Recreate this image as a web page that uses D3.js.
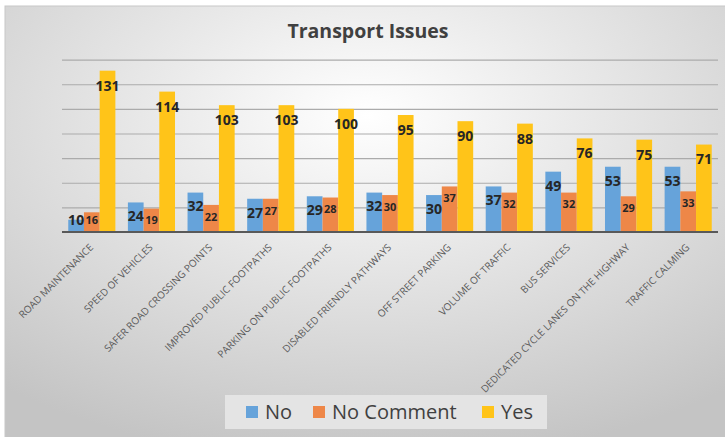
<!DOCTYPE html>
<html>
<head>
<meta charset="utf-8">
<script src="https://cdn.jsdelivr.net/npm/d3@7"></script>
<style>
  body { margin: 0; background: #fff; }
  svg { display: block; font-family: "Open Sans", sans-serif; }
</style>
</head>
<body>
<svg id="chart" width="725" height="437"></svg>
<script>
// ── data ────────────────────────────────────────────────
const categories = [
  'ROAD MAINTENANCE', 'SPEED OF VEHICLES', 'SAFER ROAD CROSSING POINTS',
  'IMPROVED PUBLIC FOOTPATHS', 'PARKING ON PUBLIC FOOTPATHS', 'DISABLED FRIENDLY PATHWAYS',
  'OFF STREET PARKING', 'VOLUME OF TRAFFIC', 'BUS SERVICES',
  'DEDICATED CYCLE LANES ON THE HIGHWAY', 'TRAFFIC CALMING'
];
const noValues        = [10, 24, 32, 27, 29, 32, 30, 37, 49, 53, 53];
const noCommentValues = [16, 19, 22, 27, 28, 30, 37, 32, 32, 29, 33];
const yesValues       = [131, 114, 103, 103, 100, 95, 90, 88, 76, 75, 71];
const seriesNames  = ['No', 'No Comment', 'Yes'];
const seriesColors = ['#66a3da', '#ee8748', '#ffc419'];
const yTicks = [0, 20, 40, 60, 80, 100, 120, 140];

const series = [noValues, noCommentValues, yesValues];

const svg = d3.select('#chart');

// ── background ──────────────────────────────────────────
const defs = svg.append('defs');
const grad = defs.append('radialGradient')
  .attr('id', 'bg').attr('cx', '50%').attr('cy', '25%').attr('r', '80%');
grad.append('stop').attr('offset', '0%').attr('stop-color', '#ffffff');
grad.append('stop').attr('offset', '100%').attr('stop-color', '#c4c4c4');

svg.append('rect')
  .attr('x', 5).attr('y', 6).attr('width', 725).attr('height', 437)
  .attr('fill', 'url(#bg)')
  .attr('stroke', '#c8c8c8');

// ── scales ──────────────────────────────────────────────
const x0 = d3.scaleBand().domain(categories).range([62, 718])
  .paddingInner(0.21).paddingOuter(0.105);
const x1 = d3.scaleBand().domain(seriesNames).range([0, x0.bandwidth()]);
const y = d3.scaleLinear().domain([0, 140]).range([232, 59.6]);

// ── gridlines ───────────────────────────────────────────
svg.append('g')
  .attr('transform', 'translate(62,0)')
  .call(d3.axisLeft(y).tickValues(yTicks.slice(1)).tickSize(-656).tickFormat(''))
  .call(g => g.select('.domain').remove())
  .call(g => g.selectAll('line').attr('stroke', '#ababab').attr('stroke-width', 1.2));

// ── bars ────────────────────────────────────────────────
const groups = svg.append('g').selectAll('g')
  .data(categories)
  .join('g')
  .attr('transform', d => `translate(${x0(d)},0)`);

groups.selectAll('rect')
  .data((d, i) => series.map((s, k) => ({ k, v: s[i] })))
  .join('rect')
  .attr('x', d => x1(seriesNames[d.k]))
  .attr('y', d => y(d.v))
  .attr('width', x1.bandwidth())
  .attr('height', d => y(0) - y(d.v))
  .attr('fill', d => seriesColors[d.k]);

// ── data labels ─────────────────────────────────────────
const labelOffset = [14, 12, 15];
const labelSize   = [14, 11, 14];
groups.selectAll('text.val')
  .data((d, i) => series.map((s, k) => ({ k, v: s[i] })))
  .join('text')
  .attr('class', 'val')
  .attr('x', d => x1(seriesNames[d.k]) + x1.bandwidth() / 2)
  .attr('y', d => Math.min(y(d.v) + labelOffset[d.k], y(0) - 12))
  .attr('dy', '0.35em')
  .attr('text-anchor', 'middle')
  .attr('font-weight', 'bold')
  .attr('font-size', d => labelSize[d.k] + 'px')
  .attr('fill', '#262626')
  .text(d => d.v);

// ── x axis ──────────────────────────────────────────────
svg.append('line')
  .attr('x1', 62).attr('x2', 718)
  .attr('y1', y(0)).attr('y2', y(0))
  .attr('stroke', '#595959').attr('stroke-width', 2);

svg.append('g').selectAll('text')
  .data(categories)
  .join('text')
  .attr('transform', d => `translate(${x0(d) + x0.bandwidth() / 2 + 2},${y(0) + 16}) rotate(-45)`)
  .attr('text-anchor', 'end')
  .attr('font-size', '10px')
  .attr('fill', '#595959')
  .text(d => d);

// ── title ───────────────────────────────────────────────
svg.append('text')
  .attr('x', 368).attr('y', 38)
  .attr('text-anchor', 'middle')
  .attr('font-size', '19.5px')
  .attr('font-weight', 'bold')
  .attr('fill', '#404040')
  .text('Transport Issues');

// ── legend ──────────────────────────────────────────────
const legend = svg.append('g');
legend.append('rect')
  .attr('x', 225).attr('y', 395).attr('width', 322).attr('height', 34)
  .attr('fill', '#e4e4e4');

const legendX = [246, 313, 482];
seriesNames.forEach((name, k) => {
  legend.append('rect')
    .attr('x', legendX[k]).attr('y', 406).attr('width', 12).attr('height', 12)
    .attr('fill', seriesColors[k]);
  legend.append('text')
    .attr('x', legendX[k] + 19).attr('y', 419)
    .attr('font-size', '20px')
    .attr('fill', '#404040')
    .text(name);
});
</script>
</body>
</html>
